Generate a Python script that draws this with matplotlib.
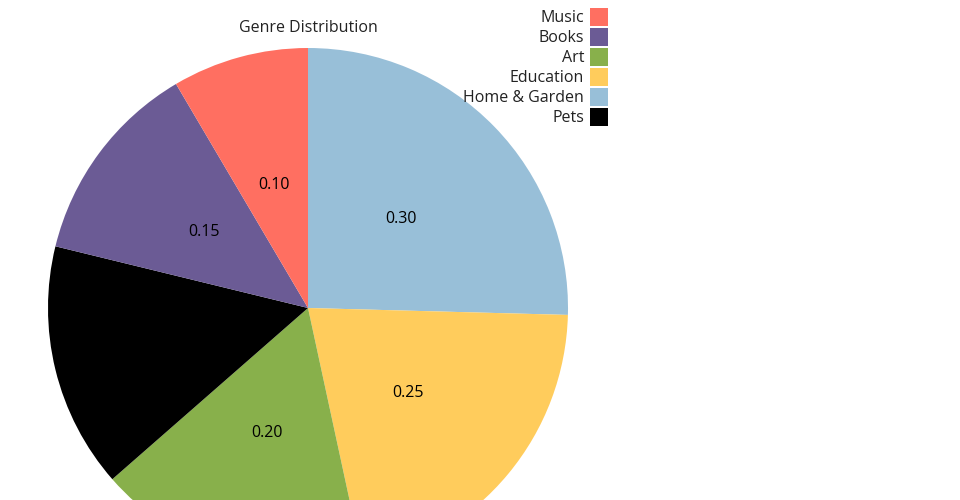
import matplotlib
matplotlib.use("Agg")
import matplotlib.pyplot as plt
import numpy as np
from matplotlib.patches import Rectangle

plt.rcParams['font.family'] = ['Open Sans', 'DejaVu Sans']

# Genre shares
genres = ["Music", "Books", "Art", "Education", "Home & Garden", "Pets"]
values = [0.10, 0.15, 0.20, 0.25, 0.30, 0.18]
colors = ["#FF6F61", "#6B5B95", "#88B04B", "#FFCC5C", "#98BFD8", "#000000"]
title = "Genre Distribution"

W, H = 960, 500
FS = 11.5
fig = plt.figure(figsize=(W / 100, H / 100), dpi=100)
ax = fig.add_axes([0, 0, 1, 1])
ax.set_axis_off()

# Slices ordered largest first, clockwise from 12 o'clock
order = np.argsort(values)[::-1]
vals = [values[i] for i in order]
cols = [colors[i] for i in order]

cx, cy, R = 308, H - 308, 260
wedges, _ = ax.pie(vals, colors=cols, startangle=90, counterclock=False,
                   center=(cx, cy), radius=R,
                   wedgeprops=dict(linewidth=0))

# Value labels halfway out along each slice's bisector
total = sum(vals)
start = 90.0
for v in vals:
    sweep = 360.0 * v / total
    mid = np.deg2rad(start - sweep / 2)
    start -= sweep
    tx = cx + 0.5 * R * np.cos(mid)
    ty = cy + 0.5 * R * np.sin(mid) - 2
    ax.text(tx, ty, f"{v:.2f}", ha="center", va="center",
            fontsize=FS, color="#000000")

ax.set_xlim(0, W)
ax.set_ylim(0, H)
ax.set_aspect("equal")

# Title
ax.text(308, H - 28, title, ha="center", va="center", fontsize=FS, color="#222222")

# Legend
for k, (g, c) in enumerate(zip(genres, colors)):
    yc = H - (17 + 20 * k)
    ax.add_patch(Rectangle((590, yc - 9), 18, 18, facecolor=c, edgecolor="none"))
    ax.text(584, yc - 1.5, g, ha="right", va="center", fontsize=FS, color="#222222")

fig.savefig("out.png", dpi=100)
